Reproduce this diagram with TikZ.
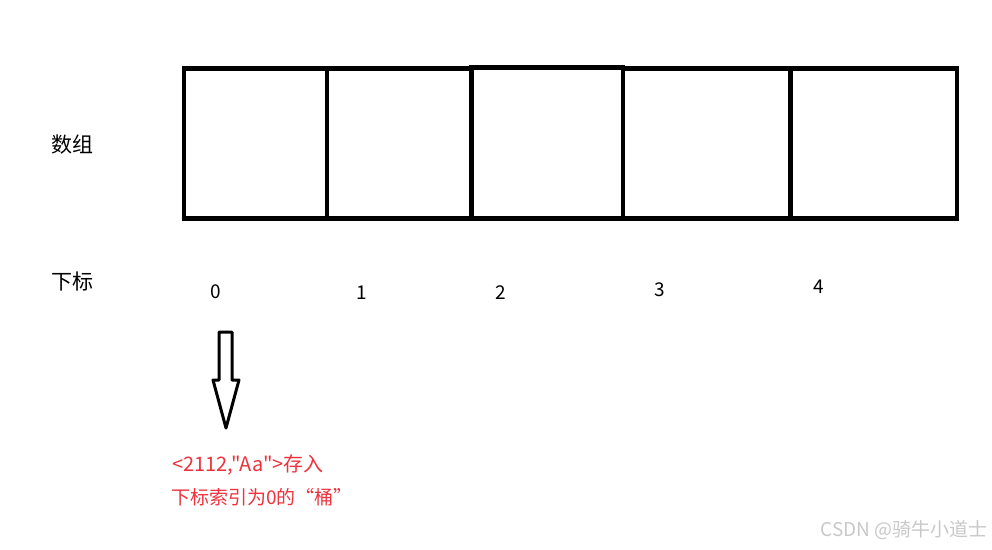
\documentclass[tikz,border=0pt]{standalone}
\usepackage{fontspec}
\setmainfont{Noto Sans CJK SC}[Ligatures=TeXOff]
\usetikzlibrary{positioning}
\definecolor{notered}{RGB}{237,50,62}
\definecolor{markgray}{RGB}{200,200,200}
\tikzset{
  cellbox/.style={draw, line width=4.5pt, minimum height=150pt, inner sep=0pt},
  idx/.style={font=\fontsize{19}{19}\selectfont, inner sep=0pt},
  lbl/.style={font=\fontsize{21}{21}\selectfont, inner sep=0pt},
  redtext/.style={text=notered, font=\fontsize{19}{19}\selectfont, inner sep=0pt, anchor=west},
}

\begin{document}
\begin{tikzpicture}[x=1pt, y=-1pt]
  \useasboundingbox (0,0) rectangle (992,549);
  % array cells
  \node[cellbox, minimum width=143pt] (c0) at (255.5,143.5) {};
  \node[cellbox, minimum width=144.5pt] (c1) at (399.25,143.5) {};
  \node[cellbox, minimum width=151.5pt, minimum height=151pt] (c2) at (547.25,143) {};
  \node[cellbox, minimum width=167.5pt] (c3) at (706.75,143.5) {};
  \node[cellbox, minimum width=166.5pt] (c4) at (873.75,143.5) {};
  \node[lbl] (arr) at (72,145) {数组};
  \node[lbl] (sub) at (72,282) {下标};
  % indices
  \node[idx] (i0) at (216,292) {0};
  \node[idx] (i1) at (362,293) {1};
  \node[idx] (i2) at (501,293) {2};
  \node[idx] (i3) at (660,290) {3};
  \node[idx] (i4) at (819,287) {4};
  % hollow arrow
  \draw[line width=3pt, line join=round] (219,332) -- (232,332) -- (232,380) -- (239,380)
    -- (226,428) -- (213,380) -- (219,380) -- cycle;
  \node[redtext, font=\fontsize{20}{20}\selectfont] (t1) at (172,465) {<2112,"Aa">存入};
  \node[redtext] (t2) at (171,497) {下标索引为0的“桶”};
  \node[text=markgray, font=\fontsize{19}{19}\selectfont, inner sep=0pt, anchor=east] (mark) at (988,530) {CSDN @骑牛小道士};
\end{tikzpicture}
\end{document}
